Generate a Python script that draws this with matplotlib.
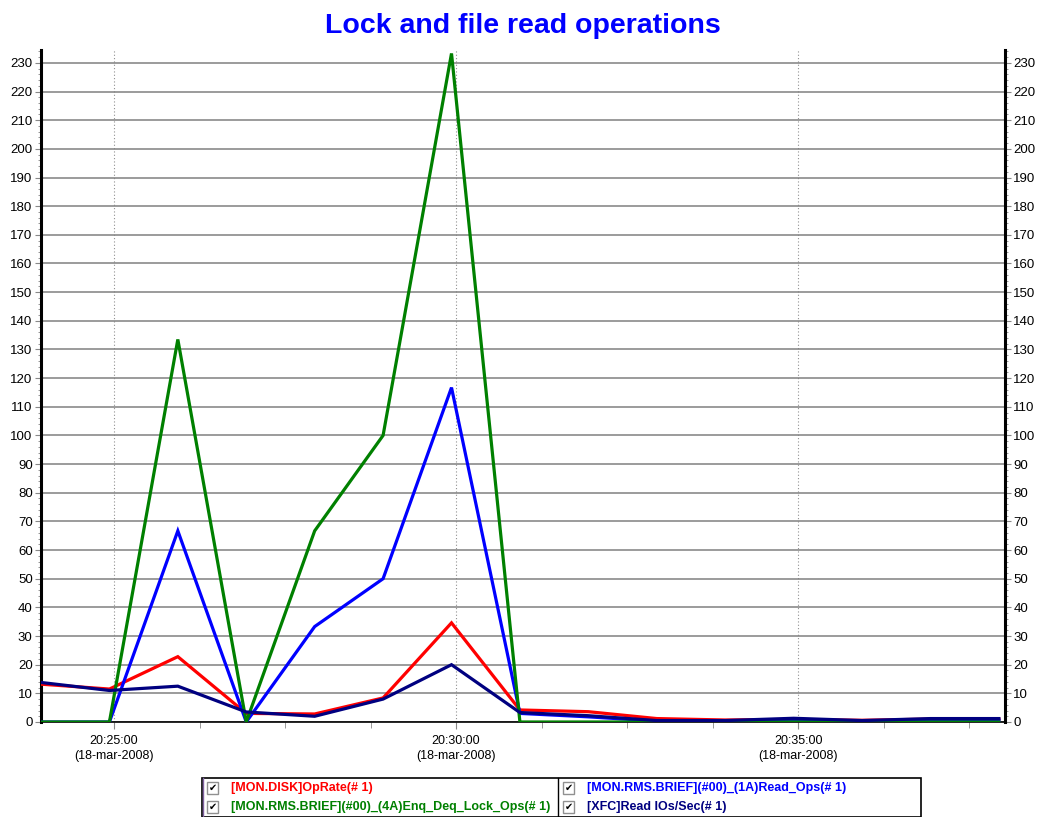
import matplotlib
matplotlib.use("Agg")
import matplotlib.pyplot as plt
from matplotlib.patches import Rectangle
from matplotlib.lines import Line2D
from matplotlib.ticker import FixedLocator, FuncFormatter, MultipleLocator

plt.rcParams["font.family"] = ["Liberation Sans", "DejaVu Sans"]

# sample times (one per minute, a few seconds before the full minute)
TIMES = [
    "20:23:56", "20:24:56", "20:25:56", "20:26:56", "20:27:56",
    "20:28:56", "20:29:56", "20:30:56", "20:31:56", "20:32:56",
    "20:33:56", "20:34:56", "20:35:56", "20:36:56", "20:37:56",
]
DATE_LABEL = "(18-mar-2008)"
MAJOR_TIMES = ["20:25:00", "20:30:00", "20:35:00"]

OP_RATE = [13.2, 11.5, 22.8, 3.0, 2.8, 8.4, 34.6, 4.2, 3.6, 1.2, 0.7, 0.9, 0.6, 1.0, 1.0]
ENQ_DEQ_LOCK = [0.0, 0.0, 133.5, 0.0, 66.7, 100.0, 233.3, 0.0, 0.0, 0.0, 0.0, 0.0, 0.0, 0.0, 0.0]
READ_OPS = [0.0, 0.0, 66.7, 0.0, 33.3, 50.0, 116.7, 3.0, 1.8, 0.3, 0.3, 0.6, 0.3, 0.6, 0.6]
XFC_READ_IOS = [13.8, 11.0, 12.5, 3.5, 2.0, 8.0, 20.0, 3.3, 2.2, 0.5, 0.5, 1.3, 0.5, 1.2, 1.2]

SERIES = [
    ("[MON.DISK]OpRate(# 1)", OP_RATE, "#ff0000"),
    ("[MON.RMS.BRIEF](#00)_(1A)Read_Ops(# 1)", READ_OPS, "#0000ff"),
    ("[MON.RMS.BRIEF](#00)_(4A)Enq_Deq_Lock_Ops(# 1)", ENQ_DEQ_LOCK, "#008000"),
    ("[XFC]Read IOs/Sec(# 1)", XFC_READ_IOS, "#000080"),
]


def to_minutes(t):
    h, m, s = (int(p) for p in t.split(":"))
    return (h - 20) * 60 + m + s / 60.0


def fmt_minutes(v):
    total = int(round(v * 60))
    return f"{20 + total // 3600:02d}:{(total // 60) % 60:02d}:{total % 60:02d}"


W, H = 1042, 817
fig = plt.figure(figsize=(W / 100, H / 100), dpi=100)


def fx(px):
    return px / W


def fy(py):
    return 1 - py / H


ax = fig.add_axes([fx(41), fy(722), fx(1005) - fx(41), fy(50) - fy(722)])

x = [to_minutes(t) for t in TIMES]
for label, values, color in SERIES:
    ax.plot(x, values, color=color, lw=2.3, solid_joinstyle="miter", zorder=3)

ax.set_xlim(x[0], x[-1] + 0.09)
ax.set_ylim(0, 234.5)

major = [to_minutes(t) for t in MAJOR_TIMES]
ax.xaxis.set_major_locator(FixedLocator(major))
ax.xaxis.set_minor_locator(MultipleLocator(1.25))
ax.xaxis.set_major_formatter(FuncFormatter(lambda v, p: f"{fmt_minutes(v)}\n{DATE_LABEL}"))
ax.tick_params(axis="x", which="major", length=5, labelsize=9, color="#888888", pad=4)
ax.tick_params(axis="x", which="minor", length=4, color="#888888")
for lbl in ax.get_xticklabels():
    lbl.set_linespacing(1.35)

ax.yaxis.set_major_locator(MultipleLocator(10))
ax.yaxis.set_minor_locator(MultipleLocator(2))
ax.tick_params(axis="y", which="major", length=4, labelsize=9.5, left=True, right=True,
               labelleft=True, labelright=True, color="#888888", pad=2)
ax.tick_params(axis="y", which="minor", length=2.5, left=True, right=True, color="#888888")

ax.grid(axis="y", which="major", color="#808080", lw=1.1)
ax.grid(axis="x", which="major", color="#909090", lw=0.8, ls=(0, (1, 2)))
ax.set_axisbelow(True)

ax.spines["top"].set_visible(False)
ax.spines["left"].set_linewidth(2.2)
ax.spines["right"].set_linewidth(2.2)
ax.spines["bottom"].set_linewidth(1.2)

fig.text(0.502, fy(26), "Lock and file read operations", ha="center", va="center",
         fontsize=20.5, fontweight="bold", color="#0000ff")

# legend panel with check boxes
fig.add_artist(Rectangle((fx(202), 0), fx(921) - fx(202), fy(778), transform=fig.transFigure,
                         fill=False, ec="black", lw=1.2))
fig.add_artist(Line2D([fx(558), fx(558)], [0, fy(778)], transform=fig.transFigure,
                      color="black", lw=1.0))
fig.add_artist(Line2D([fx(203), fx(203)], [0, fy(778)], transform=fig.transFigure,
                      color="#8060a0", lw=1.0))

legend_slots = [
    (SERIES[0], 207, 788),
    (SERIES[2], 207, 807),
    (SERIES[1], 563, 788),
    (SERIES[3], 563, 807),
]
for (label, _, color), bx, by in legend_slots:
    fig.add_artist(Rectangle((fx(bx), fy(by + 6)), fx(11), 12 / H, transform=fig.transFigure,
                             fc="white", ec="#909090", lw=1.0))
    fig.text(fx(bx + 5.5), fy(by), "\u2714", ha="center", va="center", fontsize=7,
             color="black", family="DejaVu Sans")
    fig.text(fx(bx + 24), fy(by), label, ha="left", va="center", fontsize=9,
             fontweight="bold", color=color)

fig.savefig("out.png", dpi=100)
